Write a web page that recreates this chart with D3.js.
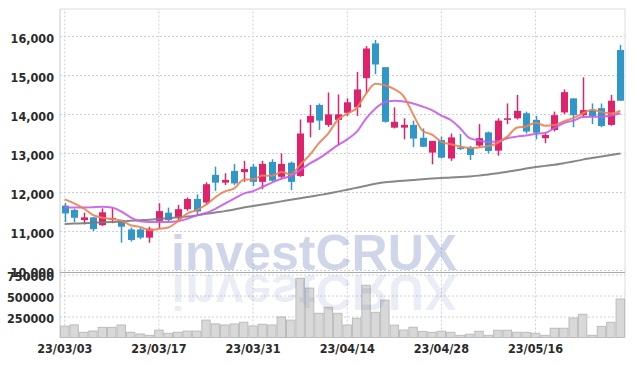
<!DOCTYPE html>
<html>
<head>
<meta charset="utf-8">
<script src="https://cdn.jsdelivr.net/npm/d3@7"></script>
<style>
  body { margin: 0; background: #fff; }
  .axis text { font-family: "DejaVu Sans Condensed", "DejaVu Sans", sans-serif; font-size: 12.5px; font-weight: bold; fill: #2a2a2a; }
  .axis path { display: none; }
</style>
</head>
<body>
<div id="chart"></div>
<script>
// trading days (yy/mm/dd)
var dates = [
  "23/03/03", "23/03/06", "23/03/07", "23/03/08", "23/03/09", "23/03/10", "23/03/13", "23/03/14", "23/03/15", "23/03/16",
  "23/03/17", "23/03/20", "23/03/21", "23/03/22", "23/03/23", "23/03/24", "23/03/27", "23/03/28", "23/03/29", "23/03/30",
  "23/03/31", "23/04/03", "23/04/04", "23/04/05", "23/04/06", "23/04/07", "23/04/10", "23/04/11", "23/04/12", "23/04/13",
  "23/04/14", "23/04/17", "23/04/18", "23/04/19", "23/04/20", "23/04/21", "23/04/24", "23/04/25", "23/04/26", "23/04/27",
  "23/04/28", "23/05/02", "23/05/03", "23/05/04", "23/05/08", "23/05/09", "23/05/10", "23/05/11", "23/05/12", "23/05/15",
  "23/05/16", "23/05/17", "23/05/18", "23/05/19", "23/05/22", "23/05/23", "23/05/24", "23/05/25", "23/05/26", "23/05/30"
];
var openP = [
  11650, 11540, 11280, 11350, 11150, 11290, 11280, 11040, 11040, 10830,
  11260, 11470, 11340, 11560, 11820, 11730, 12440, 12240, 12540, 12510,
  12650, 12260, 12770, 12390, 12750, 12410, 13780, 14230, 13720, 13850,
  14030, 14170, 14920, 15810, 15200, 13650, 13650, 13720, 13390, 13010,
  13330, 12860, 13140, 13140, 13190, 13530, 13060, 13850, 13890, 14020,
  13850, 13380, 13590, 14040, 14400, 13970, 14100, 14150, 13720, 15640
];
var highP = [
  11720, 11570, 11470, 11360, 11580, 11580, 11290, 11090, 11080, 11110,
  11710, 11600, 11670, 11860, 11940, 12250, 12650, 12480, 12720, 12800,
  12720, 12800, 12840, 12990, 12780, 13860, 14230, 14270, 14550, 14500,
  14400, 15080, 15740, 15900, 15200, 14170, 13890, 13830, 13630, 13310,
  13420, 13500, 13490, 13180, 13740, 13550, 13890, 14270, 14490, 14060,
  13950, 13500, 14060, 14630, 14400, 14940, 14270, 14270, 14490, 15770
];
var lowP = [
  11230, 11230, 11170, 11000, 11130, 11200, 10700, 10730, 10790, 10700,
  11070, 11240, 11280, 11520, 11410, 11670, 12030, 12180, 12180, 12260,
  12150, 12070, 12260, 12350, 12050, 12390, 13400, 13590, 13670, 13200,
  13950, 13950, 14530, 15020, 13780, 13630, 13350, 13150, 13150, 12710,
  12860, 12800, 13080, 12820, 13150, 12990, 12930, 13740, 13860, 13500,
  13350, 13250, 13550, 14000, 13660, 13920, 13740, 13660, 13700, 14340
];
var closeP = [
  11450, 11340, 11350, 11050, 11480, 11330, 11110, 10770, 10830, 11060,
  11510, 11280, 11560, 11820, 11500, 12200, 12240, 12310, 12220, 12590,
  12260, 12720, 12290, 12720, 12260, 13500, 13950, 13830, 13990, 13990,
  14300, 14630, 15680, 15270, 13800, 13800, 13720, 13370, 13160, 13310,
  12880, 13400, 13100, 12950, 13380, 13050, 13830, 13890, 14080, 13550,
  13520, 13460, 13970, 14560, 13970, 14100, 13950, 13690, 14340, 14340
];
var volume = [
  135000, 150000, 62000, 77000, 121000, 121000, 149000, 62000, 42000, 26000,
  88000, 50000, 62000, 76000, 76000, 207000, 162000, 149000, 161000, 181000,
  137000, 157000, 149000, 245000, 207000, 705000, 588000, 288000, 360000, 288000,
  149000, 229000, 622000, 300000, 445000, 147000, 89000, 122000, 72000, 62000,
  75000, 62000, 26000, 38000, 74000, 26000, 86000, 86000, 62000, 62000,
  50000, 26000, 110000, 110000, 232000, 276000, 26000, 133000, 181000, 458000
];
var ma5 = [
  11810, 11710, 11580, 11410, 11340, 11310, 11264, 11148, 11104, 11020,
  11056, 11090, 11248, 11446, 11534, 11672, 11864, 12014, 12094, 12312,
  12324, 12420, 12416, 12516, 12450, 12698, 12944, 13252, 13506, 13852,
  14012, 14148, 14518, 14774, 14736, 14636, 14454, 13992, 13570, 13472,
  13288, 13224, 13170, 13128, 13142, 13176, 13262, 13420, 13646, 13680,
  13774, 13700, 13716, 13812, 13896, 14012, 14110, 14054, 14010, 14084
];
var ma20 = [
  11600, 11600, 11600, 11610, 11620, 11600, 11500, 11350, 11250, 11230,
  11230, 11230, 11250, 11310, 11400, 11460, 11570, 11700, 11830, 11960,
  12020, 12130, 12240, 12340, 12410, 12560, 12730, 12860, 13030, 13200,
  13350, 13540, 13880, 14140, 14300, 14340, 14320, 14270, 14190, 14100,
  13960, 13846, 13633, 13380, 13320, 13280, 13300, 13380, 13420, 13450,
  13490, 13510, 13640, 13770, 13830, 13920, 13930, 13930, 13960, 14020
];
var ma60 = [
  11180, 11190, 11200, 11210, 11220, 11230, 11245, 11260, 11275, 11290,
  11310, 11330, 11350, 11370, 11400, 11440, 11475, 11510, 11550, 11600,
  11640, 11680, 11720, 11760, 11800, 11840, 11880, 11920, 11960, 12010,
  12060, 12110, 12160, 12210, 12250, 12270, 12290, 12310, 12330, 12345,
  12360, 12375, 12385, 12400, 12420, 12450, 12480, 12520, 12560, 12600,
  12640, 12670, 12700, 12740, 12780, 12830, 12870, 12910, 12950, 12990
];
var priceTicks = [10000, 11000, 12000, 13000, 14000, 15000, 16000];
var volumeTicks = [250000, 500000, 750000];
var dateTicks = ["23/03/03", "23/03/17", "23/03/31", "23/04/14", "23/04/28", "23/05/16"];

var width = 634, height = 366;
var left = 60, right = 625, priceTop = 9, priceBottom = 272, volTop = 272, volBottom = 337.5;

var svg = d3.select("#chart").append("svg")
  .attr("width", width)
  .attr("height", height);

var x = d3.scaleBand().domain(dates).range([left, right]).padding(0);
var y = d3.scaleLinear().domain([9949, 16692]).range([priceBottom, priceTop]);
var yVol = d3.scaleLinear().domain([0, 780000]).range([volBottom, volTop]);
var bodyW = 7;

function cx(i) {
  return x(dates[i]) + x.bandwidth() / 2;
}

var data = dates.map(function (d, i) {
  return { date: d, o: openP[i], h: highP[i], l: lowP[i], c: closeP[i], v: volume[i], i: i };
});

// grid + axes
var gridColor = "#c9cede";

svg.append("g")
  .attr("class", "axis")
  .attr("transform", "translate(" + left + ",0)")
  .call(d3.axisLeft(y).tickValues(priceTicks).tickFormat(d3.format(",")).tickSize(-(right - left)).tickPadding(6))
  .call(function (g) {
    g.selectAll("line").attr("stroke", gridColor).attr("stroke-dasharray", "2,2");
    g.selectAll("text").attr("dy", "0.55em");
  });

svg.append("g")
  .attr("class", "axis")
  .attr("transform", "translate(" + left + ",0)")
  .call(d3.axisLeft(yVol).tickValues(volumeTicks).tickFormat(d3.format("d")).tickSize(-(right - left)).tickPadding(6))
  .call(function (g) {
    g.selectAll("line").attr("stroke", gridColor).attr("stroke-dasharray", "2,2");
    g.selectAll("text").attr("dy", "0.48em");
  });

svg.append("g")
  .attr("class", "axis")
  .attr("transform", "translate(0," + volBottom + ")")
  .call(d3.axisBottom(x).tickValues(dateTicks).tickSize(-(volBottom - priceTop)).tickPadding(7))
  .call(function (g) {
    g.selectAll("line").attr("stroke", gridColor).attr("stroke-dasharray", "2,2");
  });

// frame
svg.append("line").attr("x1", left).attr("x2", right).attr("y1", priceTop).attr("y2", priceTop).attr("stroke", "#dcdcdc");
svg.append("line").attr("x1", left).attr("x2", left).attr("y1", priceTop).attr("y2", volBottom).attr("stroke", "#c8c8c8");
svg.append("line").attr("x1", right).attr("x2", right).attr("y1", priceTop).attr("y2", volBottom).attr("stroke", "#dcdcdc");
svg.append("line").attr("x1", left).attr("x2", right).attr("y1", priceBottom + 0.5).attr("y2", priceBottom + 0.5).attr("stroke", "#a8a8a8");

// volume bars
svg.append("g")
  .selectAll("rect")
  .data(data)
  .enter()
  .append("rect")
  .attr("x", function (d) { return x(d.date) + 0.5; })
  .attr("y", function (d) { return yVol(d.v); })
  .attr("width", x.bandwidth() - 1)
  .attr("height", function (d) { return yVol(0) - yVol(d.v); })
  .attr("fill", "#d8d8d8")
  .attr("stroke", "#bcbcbc")
  .attr("stroke-width", 1);

// watermark + reflection
var wm = svg.append("g");
wm.append("text")
  .attr("x", 171)
  .attr("y", 270)
  .text("investCRUX")
  .style("font-family", "'Liberation Sans', Arial, sans-serif")
  .style("font-weight", "bold")
  .style("font-size", "50px")
  .attr("fill", "rgb(40,70,160)")
  .attr("fill-opacity", 0.22);
wm.append("text")
  .attr("x", 171)
  .attr("y", 270)
  .attr("transform", "translate(0,545) scale(1,-1)")
  .text("investCRUX")
  .style("font-family", "'Liberation Sans', Arial, sans-serif")
  .style("font-weight", "bold")
  .style("font-size", "50px")
  .attr("fill", "rgb(40,70,160)")
  .attr("fill-opacity", 0.1);

// candles
var upColor = "#e0216c", downColor = "#3197c9";
var candle = svg.append("g")
  .selectAll("g")
  .data(data)
  .enter()
  .append("g");

candle.append("line")
  .attr("x1", function (d) { return Math.round(cx(d.i)) + 0.5; })
  .attr("x2", function (d) { return Math.round(cx(d.i)) + 0.5; })
  .attr("y1", function (d) { return y(d.h); })
  .attr("y2", function (d) { return y(d.l); })
  .attr("stroke", function (d) { return d.c >= d.o ? upColor : downColor; })
  .attr("stroke-width", 1.5);

candle.append("rect")
  .attr("x", function (d) { return Math.round(cx(d.i)) + 0.5 - bodyW / 2; })
  .attr("y", function (d) { return y(Math.max(d.o, d.c)); })
  .attr("width", bodyW)
  .attr("height", function (d) { return Math.max(1.5, Math.abs(y(d.o) - y(d.c))); })
  .attr("fill", function (d) { return d.c >= d.o ? upColor : downColor; });

// moving averages
function maLine(values, color, w) {
  var line = d3.line()
    .x(function (v, i) { return cx(i); })
    .y(function (v) { return y(v); })
    .curve(d3.curveMonotoneX);
  svg.append("path")
    .datum(values)
    .attr("d", line)
    .attr("fill", "none")
    .attr("stroke", color)
    .attr("stroke-width", w)
    .attr("stroke-opacity", 0.9);
}
maLine(ma60, "#7a7a7a", 2);
maLine(ma20, "#c95aea", 2);
maLine(ma5, "#ee8150", 2);
</script>
</body>
</html>
